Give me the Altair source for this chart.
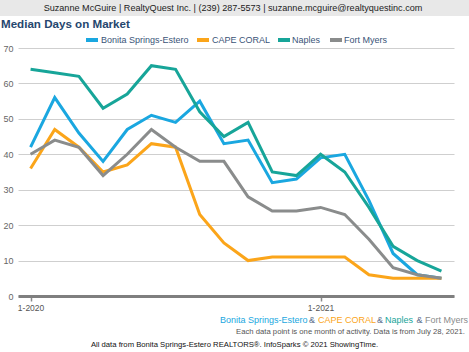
import altair as alt
import pandas as pd

months = ["1-2020", "2-2020", "3-2020", "4-2020", "5-2020", "6-2020", "7-2020", "8-2020", "9-2020",
          "10-2020", "11-2020", "12-2020", "1-2021", "2-2021", "3-2021", "4-2021", "5-2021", "6-2021"]
series_names = ["Bonita Springs-Estero", "CAPE CORAL", "Naples", "Fort Myers"]
series_colors = ["#1aa7e0", "#fba51a", "#17a599", "#8a8c8c"]
bonita = [42, 56, 46, 38, 47, 51, 49, 55, 43, 44, 32, 33, 39, 40, 27, 12, 6, 5]
cape = [36, 47, 42, 35, 37, 43, 42, 23, 15, 10, 11, 11, 11, 11, 6, 5, 5, 5]
naples = [64, 63, 62, 53, 57, 65, 64, 52, 45, 49, 35, 34, 40, 35, 25, 14, 10, 7]
fort_myers = [40, 44, 42, 34, 40, 47, 42, 38, 38, 28, 24, 24, 25, 23, 16, 8, 6, 5]
x_tick_labels = ["1-2020", "1-2021"]

header_text = "Suzanne McGuire | RealtyQuest Inc. | (239) 287-5573 | suzanne.mcguire@realtyquestinc.com"
title_text = "Median Days on Market"
footer2 = "Each data point is one month of activity. Data is from July 28, 2021."
footer3 = "All data from Bonita Springs-Estero REALTORS®. InfoSparks © 2021 ShowingTime."

rows = []
for name, vals in zip(series_names, [bonita, cape, naples, fort_myers]):
    for i, (m, v) in enumerate(zip(months, vals)):
        rows.append({"idx": i, "month": m, "series": name, "value": v})
df = pd.DataFrame(rows)

tick_idx = [months.index(t) for t in x_tick_labels]
label_expr = "{" + ",".join(f"'{i}':'{m}'" for i, m in enumerate(months)) + "}[datum.value]"

FONT = "Liberation Sans"

color = alt.Color(
    "series:N",
    scale=alt.Scale(domain=series_names, range=series_colors),
    legend=None,
)

x_enc = alt.X(
    "idx:Q",
    scale=alt.Scale(domain=[-0.52, 17.52], nice=False, zero=False),
    axis=alt.Axis(
        title=None, values=tick_idx, labelExpr=label_expr, grid=False,
        domainColor="#7f7f7f", domainWidth=3, tickColor="#8a8a8a", tickSize=5,
        tickWidth=1.5, labelFont=FONT, labelFontSize=8.5, labelColor="#555555",
        labelPadding=2,
    ),
)
y_enc = alt.Y(
    "value:Q",
    scale=alt.Scale(domain=[0, 70], nice=False),
    axis=alt.Axis(
        title=None, values=[0, 10, 20, 30, 40, 50, 60, 70], domain=False, ticks=False,
        gridColor="#cfcfcf", gridWidth=1, labelFont=FONT, labelFontSize=9,
        labelColor="#666666", labelPadding=5,
    ),
)

layers = []
for name in series_names:
    layers.append(
        alt.Chart(df).transform_filter(alt.datum.series == name)
        .mark_line(strokeWidth=3, strokeJoin="miter", clip=False)
        .encode(x=x_enc, y=y_enc, color=color)
    )

one = alt.Data(values=[{"a": 1}])

# legend (manual, to match the reference's compact spacing)
legend_sym_x = [68, 179, 260, 312]
legend_text_x = [83, 194, 274, 326]
legend_layers = []
for name, col, sx, tx in zip(series_names, series_colors, legend_sym_x, legend_text_x):
    legend_layers.append(
        alt.Chart(one).mark_rule(color=col, strokeWidth=4).encode(
            x=alt.value(sx), x2=alt.value(sx + 12), y=alt.value(-8)
        )
    )
    legend_layers.append(
        alt.Chart(one).mark_text(font=FONT, fontSize=9, color="#3a5478", align="left", baseline="middle").encode(
            x=alt.value(tx), y=alt.value(-8), text=alt.value(name)
        )
    )

header_bg = alt.Chart(one).mark_rect(color="#e8e8e8").encode(
    x=alt.value(-18), x2=alt.value(451), y=alt.value(-48), y2=alt.value(-32)
)
header = alt.Chart(one).mark_text(font=FONT, fontSize=9.1, color="#222222", align="center", baseline="middle").encode(
    x=alt.value(215), y=alt.value(-40.5), text=alt.value(header_text)
)
title = alt.Chart(one).mark_text(font=FONT, fontSize=11.6, fontWeight="bold", color="#25466e", align="left", baseline="middle").encode(
    x=alt.value(-17), y=alt.value(-23), text=alt.value(title_text)
)

seg_texts = ["Bonita Springs-Estero", "&", "CAPE CORAL", "&", "Naples", "&", "Fort Myers"]
seg_colors = ["#1aa7e0", "#5a6e8c", "#fba51a", "#5a6e8c", "#17a599", "#5a6e8c", "#8a8c8c"]
seg_x = [202, 294, 300, 362, 367, 401.5, 407]
seg_align = ["left", "center", "left", "center", "left", "center", "left"]
footer_segs = []
for t, c, xx, al in zip(seg_texts, seg_colors, seg_x, seg_align):
    footer_segs.append(
        alt.Chart(one).mark_text(font=FONT, fontSize=9, color=c, align=al, baseline="middle").encode(
            x=alt.value(xx), y=alt.value(272), text=alt.value(t)
        )
    )
foot2 = alt.Chart(one).mark_text(font=FONT, fontSize=7.7, color="#555555", align="right", baseline="middle").encode(
    x=alt.value(447), y=alt.value(284), text=alt.value(footer2)
)
foot3 = alt.Chart(one).mark_text(font=FONT, fontSize=7.7, color="#111111", align="center", baseline="middle").encode(
    x=alt.value(216.5), y=alt.value(297), text=alt.value(footer3)
)

chart = alt.layer(header_bg, header, title, *legend_layers, *layers, *footer_segs, foot2, foot3).properties(
    width=436, height=248,
    autosize=alt.AutoSizeParams(type="none"),
    padding={"left": 18, "top": 48, "right": 15, "bottom": 56},
    background="white",
).configure_view(stroke=None)

chart.save("out.html", embed_options={"renderer": "svg", "actions": False})
